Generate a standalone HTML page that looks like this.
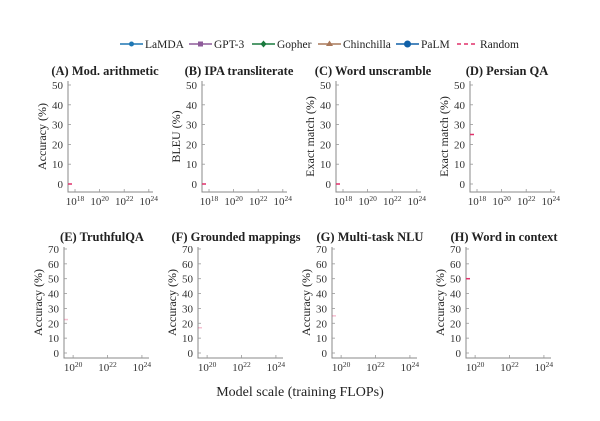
<!DOCTYPE html>
<html><head><meta charset="utf-8"><style>
body{margin:0;background:#fff;}
svg{display:block;font-family:"Liberation Serif",serif;}
</style></head><body>
<svg id="chart" width="600" height="421" viewBox="0 0 600 421" xmlns="http://www.w3.org/2000/svg">
<g id="legend"></g>
<g id="panels"></g>
<text x="300" y="396" text-anchor="middle" font-size="14" fill="#222">Model scale (training FLOPs)</text>
</svg>
<script>
const panelTitles = ["(A) Mod. arithmetic","(B) IPA transliterate","(C) Word unscramble","(D) Persian QA","(E) TruthfulQA","(F) Grounded mappings","(G) Multi-task NLU","(H) Word in context"];
const yLabels = ["Accuracy (%)","BLEU (%)","Exact match (%)","Exact match (%)","Accuracy (%)","Accuracy (%)","Accuracy (%)","Accuracy (%)"];
const randomValues = [0,0,0,25,22.5,17,25,50];
const randomOpacity = [1,1,1,1,0.3,0.3,0.3,1];
const topYTicks = [0,10,20,30,40,50];
const botYTicks = [0,10,20,30,40,50,60,70];
const topXTicks = [18,20,22,24];
const botXTicks = [20,22,24];
const legendNames = ["LaMDA","GPT-3","Gopher","Chinchilla","PaLM","Random"];
const legendColors = ["#1f77b4","#8e5b9a","#1a7a3e","#a9785a","#1060a8","#e0306a"];

const NS="http://www.w3.org/2000/svg";
function mk(tag,attrs,parent){const e=document.createElementNS(NS,tag);for(const k in attrs)e.setAttribute(k,attrs[k]);parent.appendChild(e);return e;}
const lg=document.getElementById('legend');
const legX=[120,189,252,318,396,457];
legendNames.forEach((n,i)=>{
  const g=mk('g',{},lg);
  
  
  const x=legX[i];
  if(i===5){mk('line',{x1:x,y1:44,x2:x+20,y2:44,stroke:legendColors[i],'stroke-width':1.5,'stroke-dasharray':'4,3'},g);}
  else{mk('line',{x1:x,y1:44,x2:x+23,y2:44,stroke:legendColors[i],'stroke-width':1.5},g);
    if(i===1)mk('rect',{x:x+9,y:41.5,width:5,height:5,fill:legendColors[i]},g);
    else if(i===3)mk('path',{d:`M${x+11.5} 40.5 L${x+15} 46 L${x+8} 46Z`,fill:legendColors[i]},g);
    else if(i===2)mk('path',{d:`M${x+11.5} 40.5 L${x+14.5} 44 L${x+11.5} 47.5 L${x+8.5} 44Z`,fill:legendColors[i]},g);
    else mk('circle',{cx:x+11.5,cy:44,r:i===4?3.5:2.5,fill:legendColors[i]},g);}
  const t=mk('text',{x:x+(i===5?23:25),y:48,'font-size':11.5,fill:'#222'},g);t.textContent=n;
});
const pg=document.getElementById('panels');
const ax=[68,202,336,470,64,198,332,466];
for(let p=0;p<8;p++){
  const top=p<4;
  const ax0=ax[p], ax1=ax0+85;
  const yb=top?192:358, yt=top?81:247;
  const yTicks=top?topYTicks:botYTicks, xTicks=top?topXTicks:botXTicks;
  const y0=top?184:353, yPer=top?1.98:1.486;
  const xmin=top?17.43:19.47, xPer=top?12.3:17.2;
  const Y=v=>y0-v*yPer, X=e=>ax0+(e-xmin)*xPer;
  const g=mk('g',{},pg);
  
  
  const tt=mk('text',{x:ax0+(top?-1:0)+38,y:top?75:241,'text-anchor':'middle','font-size':12.5,'font-weight':'bold',fill:'#222'},g);
  
  
  tt.textContent=panelTitles[p];
  mk('path',{d:`M${ax0} ${yt} L${ax0} ${yb} L${ax1} ${yb}`,fill:'none',stroke:'#888','stroke-width':1},g);
  yTicks.forEach(v=>{mk('line',{x1:ax0,x2:ax0+3,y1:Y(v),y2:Y(v),stroke:'#999','stroke-width':0.8},g);
    const t=mk('text',{x:ax0-5,y:Y(v)+4,'text-anchor':'end','font-size':11,fill:'#333'},g);t.textContent=v;});
  xTicks.forEach(e=>{mk('line',{x1:X(e),x2:X(e),y1:yb,y2:yb-3,stroke:'#999','stroke-width':0.8},g);
    const t=mk('text',{x:X(e),y:yb+13,'text-anchor':'middle','font-size':11,fill:'#333'},g);
    t.appendChild(document.createTextNode('10'));
    const s=mk('tspan',{'font-size':7.5,dy:-4},t);s.textContent=e;});
  const yl=mk('text',{x:0,y:0,transform:`translate(${ax0-22},${(yt+yb)/2}) rotate(-90)`,'text-anchor':'middle','font-size':12,fill:'#222'},g);
  
  
  yl.textContent=yLabels[p];
  const r=mk('line',{x1:ax0,x2:ax0+4,y1:Y(randomValues[p]),y2:Y(randomValues[p]),stroke:'#e0306a','stroke-width':1.5,'stroke-opacity':randomOpacity[p]},g);
  
  
}
</script>
</body></html>
